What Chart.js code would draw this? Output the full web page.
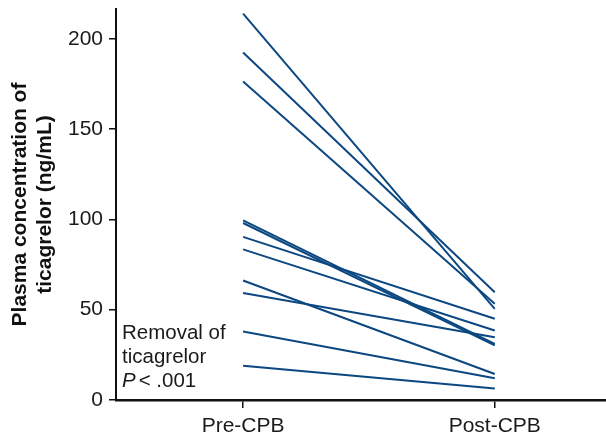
<!DOCTYPE html>
<html>
<head>
<meta charset="utf-8">
<script src="https://cdn.jsdelivr.net/npm/chart.js@4"></script>
<style>
  body { margin: 0; background: #fff; }
</style>
</head>
<body>
<canvas id="chart" width="606" height="444"></canvas>
<script>
// values (ng/mL), one entry per patient
const categories = ['Pre-CPB', 'Post-CPB'];
const preCPB = [213.9, 192.4, 176.3, 99.5, 98.0, 90.3, 83.4, 66.2, 59.2, 37.9, 19.0];
const postCPB = [50.5, 59.7, 53.3, 31.1, 30.2, 45.0, 38.5, 14.4, 34.7, 12.0, 6.4];
const yTicks = [0, 50, 100, 150, 200];
const yTitle = ['Plasma concentration of', 'ticagrelor (ng/mL)'];

const lineColor = '#0b4780';
const fontFamily = '"Liberation Sans", Arial, Helvetica, sans-serif';

// "Removal of ticagrelor P < .001" note in the lower left corner
const notePlugin = {
    id: 'note',
    afterDatasetsDraw(chart) {
        const ctx = chart.ctx;
        const area = chart.chartArea;
        const x = area.left + 6;
        ctx.save();
        ctx.fillStyle = '#1a1a1a';
        ctx.textBaseline = 'middle';
        ctx.font = '20.5px ' + fontFamily;
        ctx.fillText('Removal of', x, area.bottom - 67);
        ctx.fillText('ticagrelor', x, area.bottom - 43);
        ctx.font = 'italic 20.5px ' + fontFamily;
        ctx.fillText('P', x, area.bottom - 19);
        const w = ctx.measureText('P').width;
        ctx.font = '20.5px ' + fontFamily;
        ctx.fillText('< .001', x + w + 3, area.bottom - 19);
        ctx.restore();
    }
};

const datasets = preCPB.map((pre, i) => ({
    data: [{ x: 0, y: pre }, { x: 1, y: postCPB[i] }],
    borderColor: lineColor,
    borderWidth: 2,
    pointRadius: 0,
    fill: false,
    tension: 0
}));

new Chart(document.getElementById('chart').getContext('2d'), {
    type: 'line',
    data: { datasets: datasets },
    plugins: [notePlugin],
    options: {
        responsive: false,
        animation: false,
        devicePixelRatio: 1,
        layout: { padding: { top: 9, left: 0, right: 0, bottom: 0 } },
        plugins: {
            legend: { display: false },
            tooltip: { enabled: false }
        },
        scales: {
            x: {
                type: 'linear',
                min: -0.505,
                max: 1.442,
                afterBuildTicks: scale => {
                    scale.ticks = categories.map((c, i) => ({ value: i }));
                },
                afterFit: scale => {
                    scale.height = 44;
                    scale.paddingLeft = 0;
                    scale.paddingRight = 0;
                },
                ticks: {
                    callback: v => categories[v],
                    autoSkip: false,
                    maxRotation: 0,
                    padding: 6,
                    color: '#1a1a1a',
                    font: { family: fontFamily, size: 21 }
                },
                grid: {
                    drawOnChartArea: false,
                    drawTicks: true,
                    tickLength: 8,
                    color: '#111',
                    lineWidth: 1.5
                },
                border: { display: true, color: '#111', width: 2.5 }
            },
            y: {
                min: 0,
                max: 216.5,
                afterBuildTicks: scale => {
                    scale.ticks = yTicks.map(v => ({ value: v }));
                },
                afterFit: scale => {
                    scale.width = 116;
                    scale.paddingTop = 0;
                    scale.paddingBottom = 0;
                },
                ticks: {
                    padding: 6,
                    color: '#1a1a1a',
                    font: { family: fontFamily, size: 21 }
                },
                grid: {
                    drawOnChartArea: false,
                    drawTicks: true,
                    tickLength: 7,
                    color: '#111',
                    lineWidth: 1.5
                },
                border: { display: true, color: '#111', width: 2 },
                title: {
                    display: true,
                    text: yTitle,
                    color: '#111',
                    padding: { top: 8, bottom: 0 },
                    font: { family: fontFamily, size: 21, weight: 'bold', lineHeight: 1.17 }
                }
            }
        }
    }
});
</script>
</body>
</html>
